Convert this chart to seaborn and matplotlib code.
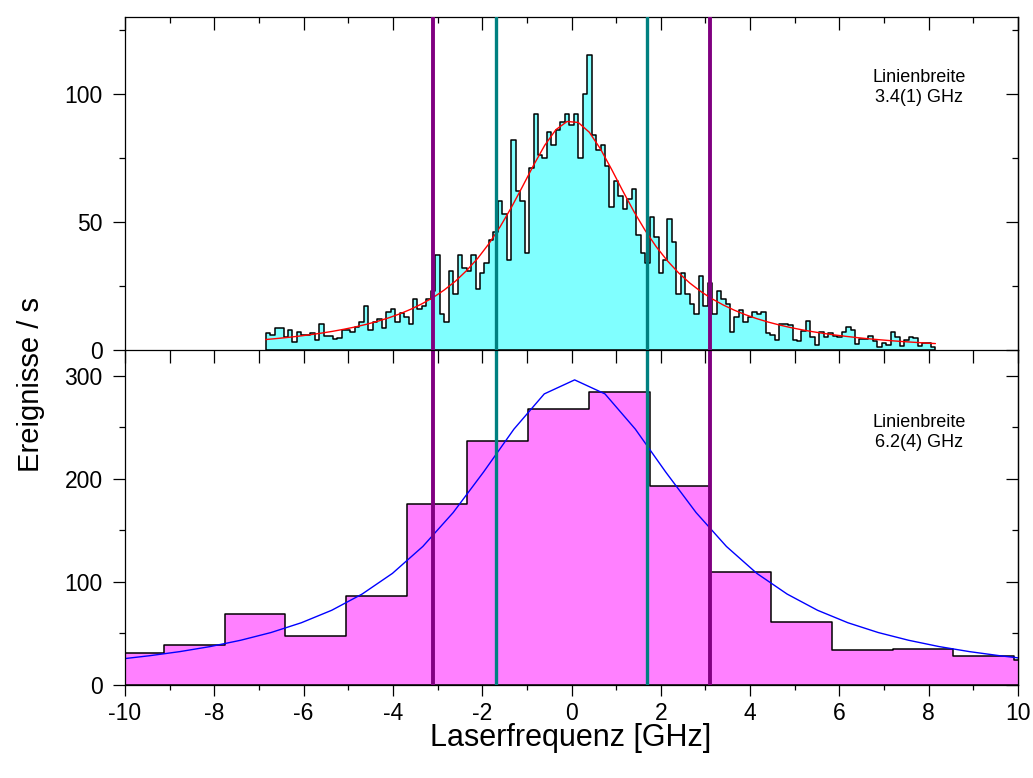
import numpy as np
import pandas as pd
import matplotlib
matplotlib.use("Agg")
import matplotlib.pyplot as plt
import seaborn as sns
from matplotlib.ticker import MultipleLocator

sns.set_theme(style="white")
plt.rcParams['font.family'] = ['Liberation Sans', 'DejaVu Sans']
plt.rcParams['axes.unicode_minus'] = False
plt.rcParams['text.color'] = 'black'
plt.rcParams['xtick.color'] = 'black'
plt.rcParams['ytick.color'] = 'black'

# ---------------- data ----------------
# top panel: fine histogram (counts per 0.1 GHz bin starting at -6.85 GHz)
top_start = -6.85
top_width = 0.1
top_counts = [
    6.5, 6, 8.5, 8.7, 5, 8, 3, 7, 5.7, 5.7,
    6.5, 4, 10, 5.5, 5.5, 4.2, 4.5, 8, 8, 7,
    9, 11, 17, 8, 11, 12,
    8.5, 15, 16, 11, 14.6, 13, 10, 20, 16, 17,
    20, 23, 37, 14, 11, 31, 22, 37, 32, 31,
    37, 24, 30, 34, 43,
    46, 58, 53, 35, 82, 62, 58, 38, 71, 92,
    76, 75, 85, 80, 86, 89, 92, 88, 92, 75,
    100, 115, 84, 78,
    80, 72, 56, 66, 60, 55, 59, 63, 45, 38,
    34, 52, 44, 30, 35, 51, 42, 22, 30, 22,
    18, 14, 29, 17,
    26, 14, 23, 20, 18, 7, 13, 15.6, 11, 13,
    15, 14, 15, 6.5, 6, 3.8, 10, 10, 9.8, 4,
    3.6, 7.6, 11.5, 5, 2, 7,
    5, 6.5, 5.4, 5.2, 7, 9, 8, 2.5, 4.3, 4.2,
    5.5, 3.6, 1, 2.9, 2, 7, 5, 1.5, 4, 5,
    4.5, 1.5, 2.9, 2.7, 1.2,
]

# top panel fit curve (red)
top_fit_x = [-6.85, -6.6, -6.35, -6.1, -5.85, -5.6, -5.35, -5.1, -4.85, -4.6,
             -4.35, -4.1, -3.85, -3.6, -3.35, -3.1, -2.85, -2.6, -2.35, -2.1,
             -1.85, -1.6, -1.35, -1.1, -0.85, -0.6, -0.35, -0.1, 0.15, 0.4,
             0.65, 0.9, 1.15, 1.4, 1.65, 1.9, 2.15, 2.4, 2.65, 2.9,
             3.15, 3.4, 3.65, 3.9, 4.15, 4.4, 4.65, 4.9, 5.15, 5.4,
             5.65, 5.9, 6.15, 6.4, 6.65, 6.9, 7.15, 7.4, 7.65, 7.9, 8.15]
top_fit_y = [4.08, 4.48, 4.92, 5.42, 5.97, 6.60, 7.29, 8.09, 8.98, 10.0,
             11.17, 12.52, 14.08, 15.9, 18.03, 20.48, 23.43, 26.85, 31.0, 35.8,
             41.48, 48.06, 55.55, 63.73, 72.12, 79.9, 86.0, 89.2, 88.84, 84.99,
             78.46, 70.46, 62.05, 53.99, 46.67, 40.26, 34.77, 30.09, 26.13, 22.79,
             19.96, 17.56, 15.51, 13.75, 12.24, 10.93, 9.79, 8.79, 7.92, 7.15,
             6.47, 5.86, 5.32, 4.83, 4.39, 4.0, 3.64, 3.32, 3.03, 2.76, 2.51]

# bottom panel: coarse histogram
bot_start = -10.49
bot_width = 1.36
bot_counts = [31, 39, 69, 47.5, 86, 176, 237, 268, 284, 193, 110, 61, 34, 35, 28, 24]

# bottom panel fit curve (blue)
bot_fit_x = [-10.13, -9.45, -8.77, -8.09, -7.41, -6.73, -6.05, -5.37, -4.69, -4.01,
             -3.33, -2.65, -1.97, -1.29, -0.61, 0.07, 0.75, 1.43, 2.11, 2.79,
             3.47, 4.15, 4.83, 5.51, 6.19, 6.87, 7.55, 8.23, 8.91, 9.59, 10.27]
bot_fit_y = [25.0, 28.4, 32.4, 37.3, 43.4, 50.9, 60.4, 72.5, 88.2, 108.3,
             134.4, 167.3, 206.6, 248.2, 282.4, 296, 282.4, 248.2, 206.6, 167.3,
             134.4, 108.3, 88.2, 72.5, 60.4, 50.9, 43.4, 37.3, 32.4, 28.4, 25.0]

outer_lines = [-3.1, 3.1]   # purple markers
inner_lines = [-1.7, 1.7]   # teal markers

top_label = ["Linienbreite", "3.4(1) GHz"]
bot_label = ["Linienbreite", "6.2(4) GHz"]

# ---------------- figure ----------------
W, H = 1033, 778
fig = plt.figure(figsize=(W / 100, H / 100), dpi=100)
left, right = 125 / W, 1018 / W
ax_bot = fig.add_axes([left, 1 - 685 / H, right - left, (685 - 350) / H])
ax_top = fig.add_axes([left, 1 - 350 / H, right - left, (350 - 17) / H])

CYAN = "#80FFFF"
MAGENTA = "#FF80FF"
PURPLE = "#800080"
TEAL = "#008080"

# top histogram
t_edges = top_start + top_width * np.arange(len(top_counts) + 1)
t_centers = (t_edges[:-1] + t_edges[1:]) / 2
df_top = pd.DataFrame({"x": t_centers, "w": top_counts})
sns.histplot(data=df_top, x="x", weights="w", bins=[float(e) for e in t_edges],
             element="step", fill=True, color=CYAN, alpha=1, edgecolor="black",
             linewidth=1.1, ax=ax_top)
sns.lineplot(x=top_fit_x, y=top_fit_y, color="red", linewidth=1.0, ax=ax_top)

# bottom histogram
b_edges = bot_start + bot_width * np.arange(len(bot_counts) + 1)
b_centers = (b_edges[:-1] + b_edges[1:]) / 2
df_bot = pd.DataFrame({"x": b_centers, "w": bot_counts})
sns.histplot(data=df_bot, x="x", weights="w", bins=[float(e) for e in b_edges],
             element="step", fill=True, color=MAGENTA, alpha=1, edgecolor="black",
             linewidth=1.1, ax=ax_bot)
sns.lineplot(x=bot_fit_x, y=bot_fit_y, color="blue", linewidth=1.0, ax=ax_bot)

for ax in (ax_top, ax_bot):
    for x in outer_lines:
        ax.axvline(x, color=PURPLE, linewidth=2.8, zorder=6)
    for x in inner_lines:
        ax.axvline(x, color=TEAL, linewidth=2.4, zorder=6)
    ax.set_xlim(-10, 10)
    ax.set_xlabel("")
    ax.set_ylabel("")
    for s in ax.spines.values():
        s.set_color("black")
        s.set_linewidth(0.9)
    ax.spines["top"].set_visible(False)

ax_top.set_ylim(0, 130)
ax_bot.set_ylim(0, 325)

# ticks - top panel
ax_top.xaxis.set_major_locator(MultipleLocator(1))
ax_top.tick_params(axis="x", which="major", direction="out", length=9, width=0.9,
                   colors="black", labelbottom=False, bottom=True)
ax_top.yaxis.set_major_locator(MultipleLocator(50))
ax_top.yaxis.set_minor_locator(MultipleLocator(25))
ax_top.tick_params(axis="y", which="major", direction="out", length=9, width=0.9,
                   left=True, right=False, labelsize=16.5, pad=7, colors="black")
ax_top.tick_params(axis="y", which="minor", direction="out", length=4.5, width=0.9,
                   left=True, right=False, colors="black")

# top axis line with inward ticks
sec_top = ax_top.secondary_xaxis("top")
sec_top.xaxis.set_major_locator(MultipleLocator(2))
sec_top.xaxis.set_minor_locator(MultipleLocator(1))
sec_top.tick_params(which="major", direction="in", length=9, width=0.9,
                    labeltop=False, colors="black")
sec_top.tick_params(which="minor", direction="in", length=4, width=0.9,
                    labeltop=False, colors="black")
sec_top.spines["top"].set_color("black")
sec_top.spines["top"].set_linewidth(0.9)

# ticks - bottom panel
ax_bot.xaxis.set_major_locator(MultipleLocator(2))
ax_bot.xaxis.set_minor_locator(MultipleLocator(1))
ax_bot.tick_params(axis="x", which="major", direction="out", length=8, width=0.9,
                   bottom=True, labelsize=16.5, pad=4, colors="black")
ax_bot.tick_params(axis="x", which="minor", direction="out", length=3.8, width=0.9,
                   bottom=True, colors="black")
ax_bot.yaxis.set_major_locator(MultipleLocator(100))
ax_bot.yaxis.set_minor_locator(MultipleLocator(50))
ax_bot.tick_params(axis="y", which="major", direction="out", length=9, width=0.9,
                   left=True, right=False, labelsize=16.5, pad=7, colors="black")
ax_bot.tick_params(axis="y", which="minor", direction="out", length=4.5, width=0.9,
                   left=True, right=False, colors="black")

# inward ticks on the right side
for ax, maj, mnr in ((ax_top, 50, 25), (ax_bot, 100, 50)):
    sec = ax.secondary_yaxis("right")
    sec.yaxis.set_major_locator(MultipleLocator(maj))
    sec.yaxis.set_minor_locator(MultipleLocator(mnr))
    sec.tick_params(which="major", direction="in", length=9, width=0.9,
                    labelright=False, colors="black")
    sec.tick_params(which="minor", direction="in", length=4.5, width=0.9,
                    labelright=False, colors="black")
    sec.spines["right"].set_color("black")
    sec.spines["right"].set_linewidth(0.9)

# annotations
ax_top.text(7.78, 106.3, top_label[0], ha="center", va="center", fontsize=13,
            color="black")
ax_top.text(7.78, 98.4, top_label[1], ha="center", va="center", fontsize=13,
            color="black")
ax_bot.text(7.78, 255, bot_label[0], ha="center", va="center", fontsize=13,
            color="black")
ax_bot.text(7.78, 235, bot_label[1], ha="center", va="center", fontsize=13,
            color="black")

# axis labels
fig.text(31 / W, 1 - 384 / H, "Ereignisse / s", rotation=90, ha="center",
         va="center", fontsize=21, color="black")
fig.text(571 / W, 1 - 738 / H, "Laserfrequenz [GHz]", ha="center", va="center",
         fontsize=22, color="black")

fig.savefig("out.png", dpi=100, facecolor="white")
